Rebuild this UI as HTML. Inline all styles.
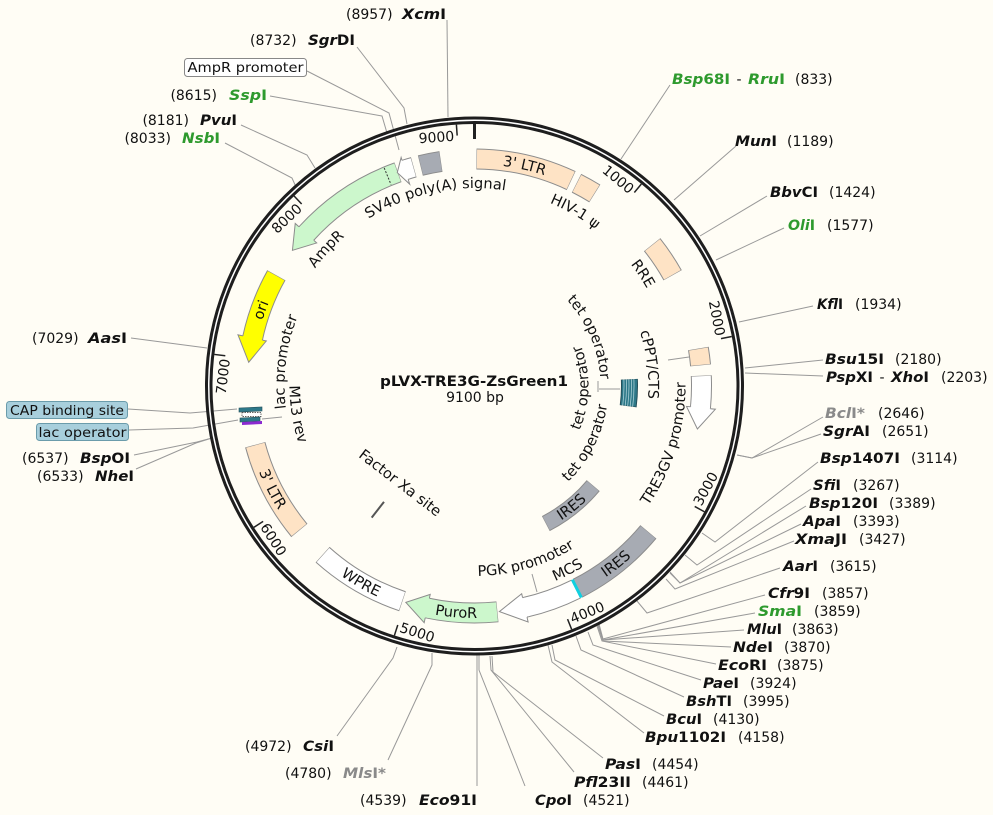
<!DOCTYPE html>
<html><head><meta charset="utf-8">
<style>
html,body{margin:0;padding:0;background:#fffdf5;}
svg{display:block;}
text{font-family:"DejaVu Sans","Liberation Sans",sans-serif;font-size:14px;fill:#111;}
.f{font-size:14.6px;}
.e{font-weight:bold;}
.i{font-style:italic;}
.g{fill:#2e9a2e;}
.gr{fill:#8a8a8a;}
.ln{fill:none;stroke:#999;stroke-width:1;}
.o{fill:none;stroke:#8c8c8c;stroke-width:21;}
</style></head><body>
<svg width="993" height="815" viewBox="0 0 993 815" xmlns="http://www.w3.org/2000/svg">
<rect width="993" height="815" fill="#fffdf5"/>
<defs>
<path id="cw222" d="M282.24 275 A222 222 0 0 1 666.76 275"/>
<path id="cw198" d="M303.03 287 A198 198 0 0 1 645.97 287"/>
<path id="cw190" d="M309.96 291 A190 190 0 0 1 639.04 291"/>
<path id="cw174" d="M323.82 299 A174 174 0 0 1 625.18 299"/>
<path id="cw126" d="M365.38 323 A126 126 0 0 1 583.62 323"/>
<path id="cc232" d="M273.59 502 A232 232 0 0 0 675.41 502"/>
<path id="cc160" d="M335.94 466 A160 160 0 0 0 613.06 466"/>
<path id="cc211" d="M291.77 491.5 A211 211 0 0 0 657.23 491.5"/>
<path id="cc190" d="M309.96 481 A190 190 0 0 0 639.04 481"/>
<path id="cc185" d="M314.29 478.5 A185 185 0 0 0 634.71 478.5"/>
<path id="cc114" d="M375.78 443 A114 114 0 0 0 573.22 443"/>
<path id="cc134" d="M358.46 453 A134 134 0 0 0 590.54 453"/>
</defs>

<!-- leader lines -->
<g class="ln">
<polyline points="447,20 448,117"/>
<polyline points="357,47 404,108 407,124"/>
<polyline points="307,71 389,113 399,150"/>
<polyline points="270,96 382,116 387,133"/>
<polyline points="241,125 307,155 315,168"/>
<polyline points="225,143 292,178 296,187"/>
<polyline points="131,338 207,348"/>
<polyline points="128,409 190,413 237,409"/>
<polyline points="129,430 193,428 238,420"/>
<polyline points="134,455 197,442 212,438"/>
<polyline points="136,469 196,443 212,438"/>
<polyline points="337,736 393,658 397,647"/>
<polyline points="388,760 432,665 432,653"/>
<polyline points="477,786 477,655"/>
<polyline points="525,786 479,670 479,655"/>
<polyline points="574,772 491,670 490,656"/>
<polyline points="603,758 493,672 492,656"/>
<polyline points="644,733 552,662 548,645"/>
<polyline points="664,716 555,660 552,645"/>
<polyline points="684,697 581,650 576,636"/>
<polyline points="701,680 593,645 588,632"/>
<polyline points="716,664 602,641 597,626"/>
<polyline points="731,647 603,641 598,626"/>
<polyline points="744,630 603,640 598,625"/>
<polyline points="755,613 603,640 599,625"/>
<polyline points="765,595 603,639 599,624"/>
<polyline points="780,568 647,613 637,601"/>
<polyline points="794,541 675,589 666,579"/>
<polyline points="801,524 680,583 670,573"/>
<polyline points="806,506 680,583 670,572"/>
<polyline points="811,489 697,565 685,555"/>
<polyline points="818,462 715,542 702,533"/>
<polyline points="821,434 752,458 737,455"/>
<polyline points="823,417 752,458 737,455"/>
<polyline points="823,376 745,373"/>
<polyline points="823,360 745,368"/>
<polyline points="813,306 739,322"/>
<polyline points="784,228 716,260"/>
<polyline points="767,196 700,236"/>
<polyline points="736,146 674,200"/>
<polyline points="670,85 621,159"/>
<line x1="668" y1="360" x2="689" y2="357"/>
<line x1="532" y1="574" x2="537" y2="592"/>
<line x1="262" y1="419" x2="282" y2="417"/>
<line x1="599" y1="389" x2="620" y2="389"/>
<line x1="598" y1="381" x2="598" y2="392"/>
</g>

<!-- backbone -->
<circle cx="474.5" cy="386" r="265.75" fill="none" stroke="#1e1e1e" stroke-width="7.5"/>
<circle cx="474.5" cy="386" r="265.75" fill="none" stroke="#ffffff" stroke-width="1.5"/>

<!-- ticks -->
<g stroke="#222" stroke-width="1.5">
<line x1="474.5" y1="124" x2="474.5" y2="135" transform="rotate(39.56 474.5 386)"/>
<line x1="474.5" y1="124" x2="474.5" y2="135" transform="rotate(79.12 474.5 386)"/>
<line x1="474.5" y1="124" x2="474.5" y2="135" transform="rotate(118.68 474.5 386)"/>
<line x1="474.5" y1="124" x2="474.5" y2="135" transform="rotate(158.24 474.5 386)"/>
<line x1="474.5" y1="124" x2="474.5" y2="135" transform="rotate(197.80 474.5 386)"/>
<line x1="474.5" y1="124" x2="474.5" y2="135" transform="rotate(237.36 474.5 386)"/>
<line x1="474.5" y1="124" x2="474.5" y2="135" transform="rotate(276.92 474.5 386)"/>
<line x1="474.5" y1="124" x2="474.5" y2="135" transform="rotate(316.48 474.5 386)"/>
<line x1="474.5" y1="124" x2="474.5" y2="135" transform="rotate(356.04 474.5 386)"/>
</g>
<line x1="474.5" y1="124" x2="474.5" y2="139" stroke="#222" stroke-width="3"/>
<text transform="rotate(39.56 474.5 386)" x="471.5" y="140" text-anchor="end">1000</text>
<text transform="rotate(79.12 474.5 386)" x="471.5" y="140" text-anchor="end">2000</text>
<text transform="rotate(276.92 474.5 386)" x="471.5" y="140" text-anchor="end">7000</text>
<text transform="rotate(316.48 474.5 386)" x="471.5" y="140" text-anchor="end">8000</text>
<text transform="rotate(356.04 474.5 386)" x="471.5" y="140" text-anchor="end">9000</text>
<text transform="rotate(-61.32 474.5 386)" x="477.5" y="643">3000</text>
<text transform="rotate(-21.76 474.5 386)" x="477.5" y="643">4000</text>
<text transform="rotate(17.80 474.5 386)" x="477.5" y="643">5000</text>
<text transform="rotate(57.36 474.5 386)" x="477.5" y="643">6000</text>

<!-- outer band features -->
<g transform="rotate(-89.5 474.5 386)"><circle cx="474.5" cy="386" r="227" class="o" stroke-dasharray="97.86 3000"/><circle cx="474.5" cy="386" r="227" fill="none" stroke="#fee3c5" stroke-width="19" stroke-dasharray="96.86 3000" stroke-dashoffset="-0.5"/></g>
<g transform="rotate(-63.3 474.5 386)"><circle cx="474.5" cy="386" r="227" class="o" stroke-dasharray="21 3000"/><circle cx="474.5" cy="386" r="227" fill="none" stroke="#fee3c5" stroke-width="19" stroke-dasharray="20 3000" stroke-dashoffset="-0.5"/></g>
<g transform="rotate(-38.5 474.5 386)"><circle cx="474.5" cy="386" r="227" class="o" stroke-dasharray="36.85 3000"/><circle cx="474.5" cy="386" r="227" fill="none" stroke="#fee3c5" stroke-width="19" stroke-dasharray="35.85 3000" stroke-dashoffset="-0.5"/></g>
<g transform="rotate(-9.5 474.5 386)"><circle cx="474.5" cy="386" r="227" class="o" stroke-dasharray="17.04 3000"/><circle cx="474.5" cy="386" r="227" fill="none" stroke="#fee3c5" stroke-width="19" stroke-dasharray="16.04 3000" stroke-dashoffset="-0.5"/></g>
<!-- TRE3GV -->
<g transform="rotate(-2.6 474.5 386)"><circle cx="474.5" cy="386" r="227" class="o" stroke-dasharray="32.09 3000"/><circle cx="474.5" cy="386" r="227" fill="none" stroke="#ffffff" stroke-width="19" stroke-dasharray="31.09 3000" stroke-dashoffset="-0.5"/></g>
<g transform="rotate(95.5 474.5 386)"><polygon points="471.5,149.6 474.5,149.6 474.5,144 495.9,160 474.5,173 474.5,168.4 471.5,168.4" fill="#ffffff"/><polyline points="474.5,149 474.5,144 495.9,160 474.5,173 474.5,169" fill="none" stroke="#8c8c8c"/></g>
<!-- IRES outer -->
<g transform="rotate(40 474.5 386)"><circle cx="474.5" cy="386" r="227" class="o" stroke-dasharray="91.12 3000"/><circle cx="474.5" cy="386" r="227" fill="none" stroke="#a7abb3" stroke-width="19" stroke-dasharray="90.12 3000" stroke-dashoffset="-0.5"/></g>
<!-- PGK -->
<g transform="rotate(63.4 474.5 386)"><circle cx="474.5" cy="386" r="227" class="o" stroke-dasharray="54.67 3000"/><circle cx="474.5" cy="386" r="227" fill="none" stroke="#ffffff" stroke-width="19" stroke-dasharray="53.67 3000" stroke-dashoffset="-0.5"/></g>
<g transform="rotate(167.2 474.5 386)"><polygon points="471.5,149.6 474.5,149.6 474.5,144 500.2,160.5 474.5,173 474.5,168.4 471.5,168.4" fill="#ffffff"/><polyline points="474.5,149 474.5,144 500.2,160.5 474.5,173 474.5,169" fill="none" stroke="#8c8c8c"/></g>
<!-- MCS -->
<line x1="474.5" y1="149" x2="474.5" y2="169" stroke="#10d0e0" stroke-width="3" transform="rotate(153.2 474.5 386)"/>
<!-- PuroR -->
<g transform="rotate(84.2 474.5 386)"><circle cx="474.5" cy="386" r="227" class="o" stroke-dasharray="70.52 3000"/><circle cx="474.5" cy="386" r="227" fill="none" stroke="#ccf7cc" stroke-width="19" stroke-dasharray="69.52 3000" stroke-dashoffset="-0.5"/></g>
<g transform="rotate(192 474.5 386)"><polygon points="471.5,149.6 474.5,149.6 474.5,144 496.7,160.1 474.5,173 474.5,168.4 471.5,168.4" fill="#ccf7cc"/><polyline points="474.5,149 474.5,144 496.7,160.1 474.5,173 474.5,169" fill="none" stroke="#8c8c8c"/></g>
<!-- WPRE -->
<g transform="rotate(108.5 474.5 386)"><circle cx="474.5" cy="386" r="227" class="o" stroke-dasharray="93.1 3000"/><circle cx="474.5" cy="386" r="227" fill="none" stroke="#ffffff" stroke-width="19" stroke-dasharray="92.1 3000" stroke-dashoffset="-0.5"/></g>
<!-- 3' LTR left -->
<g transform="rotate(140.5 474.5 386)"><circle cx="474.5" cy="386" r="227" class="o" stroke-dasharray="97.07 3000"/><circle cx="474.5" cy="386" r="227" fill="none" stroke="#fee3c5" stroke-width="19" stroke-dasharray="96.07 3000" stroke-dashoffset="-0.5"/></g>
<!-- ori -->
<g transform="rotate(192.2 474.5 386)"><circle cx="474.5" cy="386" r="227" class="o" stroke-dasharray="67.35 3000"/><circle cx="474.5" cy="386" r="227" fill="none" stroke="#ffff00" stroke-width="19" stroke-dasharray="66.35 3000" stroke-dashoffset="-0.5"/></g>
<g transform="rotate(282.2 474.5 386)"><polygon points="477.5,149.6 474.5,149.6 474.5,144 450,160.3 474.5,173 474.5,168.4 477.5,168.4" fill="#ffff00"/><polyline points="474.5,149 474.5,144 450,160.3 474.5,173 474.5,169" fill="none" stroke="#8c8c8c"/></g>
<!-- AmpR -->
<g transform="rotate(222.2 474.5 386)"><circle cx="474.5" cy="386" r="227" class="o" stroke-dasharray="111.33 3000"/><circle cx="474.5" cy="386" r="227" fill="none" stroke="#ccf7cc" stroke-width="19" stroke-dasharray="110.33 3000" stroke-dashoffset="-0.5"/></g>
<g transform="rotate(312.2 474.5 386)"><polygon points="477.5,149.6 474.5,149.6 474.5,144 452.7,160 474.5,173 474.5,168.4 477.5,168.4" fill="#ccf7cc"/><polyline points="474.5,149 474.5,144 452.7,160 474.5,173 474.5,169" fill="none" stroke="#8c8c8c"/></g>
<line x1="474.5" y1="150" x2="474.5" y2="168" stroke="#333" stroke-width="1" stroke-dasharray="2 1.5" transform="rotate(337.5 474.5 386)"/>
<!-- AmpR promoter -->
<g transform="rotate(252.2 474.5 386)"><circle cx="474.5" cy="386" r="227" class="o" stroke-dasharray="9.11 3000"/><circle cx="474.5" cy="386" r="227" fill="none" stroke="#ffffff" stroke-width="19" stroke-dasharray="8.11 3000" stroke-dashoffset="-0.5"/></g>
<g transform="rotate(342.2 474.5 386)"><polygon points="477.5,149.6 474.5,149.6 474.5,146 466.2,159.2 474.5,174 474.5,168.4 477.5,168.4" fill="#ffffff"/><polyline points="474.5,149 474.5,146 466.2,159.2 474.5,174 474.5,169" fill="none" stroke="#8c8c8c"/></g>
<!-- SV40 -->
<g transform="rotate(256.2 474.5 386)"><circle cx="474.5" cy="386" r="227" class="o" stroke-dasharray="21 3000"/><circle cx="474.5" cy="386" r="227" fill="none" stroke="#a7abb3" stroke-width="19" stroke-dasharray="20 3000" stroke-dashoffset="-0.5"/></g>

<!-- inner band -->
<g transform="rotate(40 474.5 386)"><circle cx="474.5" cy="386" r="155" fill="none" stroke="#8c8c8c" stroke-width="17" stroke-dasharray="61.14 3000"/><circle cx="474.5" cy="386" r="155" fill="none" stroke="#a7abb3" stroke-width="15" stroke-dasharray="60.14 3000" stroke-dashoffset="-0.5"/></g>
<g transform="rotate(-2.5 474.5 386)">
<circle cx="474.5" cy="386" r="155" fill="none" stroke="#244f5a" stroke-width="17" stroke-dasharray="27.05 3000"/>
<circle cx="474.5" cy="386" r="155" fill="none" stroke="#2d7888" stroke-width="15" stroke-dasharray="26.05 3000" stroke-dashoffset="-0.5"/>
<circle cx="474.5" cy="386" r="149.5" fill="none" stroke="#a9cfd6" stroke-width="0.8" stroke-dasharray="26.09 3000"/>
<circle cx="474.5" cy="386" r="152" fill="none" stroke="#a9cfd6" stroke-width="0.8" stroke-dasharray="26.53 3000"/>
<circle cx="474.5" cy="386" r="154.5" fill="none" stroke="#a9cfd6" stroke-width="0.8" stroke-dasharray="26.97 3000"/>
<circle cx="474.5" cy="386" r="157" fill="none" stroke="#a9cfd6" stroke-width="0.8" stroke-dasharray="27.4 3000"/>
<circle cx="474.5" cy="386" r="159.5" fill="none" stroke="#a9cfd6" stroke-width="0.8" stroke-dasharray="27.84 3000"/>
</g>
<line x1="474.5" y1="219" x2="474.5" y2="239" stroke="#555" stroke-width="2" transform="rotate(218 474.5 386)"/>

<!-- lac region -->
<polygon points="239,408 262,407 262,411 239,412" fill="#2d7888" stroke="#244f5a" stroke-width="0.6"/>
<rect x="242" y="412.5" width="19" height="4" fill="#fff" stroke="#333" stroke-width="0.7" stroke-dasharray="1.5 1"/>
<polygon points="240,418 260,417 260,421 240,422" fill="#2d7888" stroke="#244f5a" stroke-width="0.6"/>
<polygon points="242,422 262,421 262,424 242,425" fill="#8a2ad0"/>

<!-- feature labels -->
<text class="f" transform="rotate(12.8 474.5 386)"><textPath href="#cw222" startOffset="50%" text-anchor="middle">3' LTR</textPath></text>
<text class="f" transform="rotate(289.6 474.5 386)"><textPath href="#cw222" startOffset="50%" text-anchor="middle">ori</textPath></text>
<text class="f" transform="rotate(30 474.5 386)"><textPath href="#cw198" startOffset="50%" text-anchor="middle">HIV-1 ψ</textPath></text>
<text class="f" transform="rotate(56.3 474.5 386)"><textPath href="#cw198" startOffset="50%" text-anchor="middle">RRE</textPath></text>
<text class="f" transform="rotate(312.7 474.5 386)"><textPath href="#cw198" startOffset="50%" text-anchor="middle">AmpR</textPath></text>
<text class="f" transform="rotate(348.3 474.5 386)"><textPath href="#cw198" startOffset="50%" text-anchor="middle">SV40 poly(A) signal</textPath></text>
<text class="f" transform="rotate(277.3 474.5 386)"><textPath href="#cw190" startOffset="50%" text-anchor="middle">lac promoter</textPath></text>
<text class="f" transform="rotate(83 474.5 386)"><textPath href="#cw174" startOffset="50%" text-anchor="middle">cPPT/CTS</textPath></text>
<text class="f" transform="rotate(67 474.5 386)"><textPath href="#cw126" startOffset="50%" text-anchor="middle">tet operator</textPath></text>

<text class="f" transform="rotate(-38.5 474.5 386)"><textPath href="#cc232" startOffset="50%" text-anchor="middle">IRES</textPath></text>
<text class="f" transform="rotate(4.6 474.5 386)"><textPath href="#cc232" startOffset="50%" text-anchor="middle">PuroR</textPath></text>
<text class="f" transform="rotate(30 474.5 386)"><textPath href="#cc232" startOffset="50%" text-anchor="middle">WPRE</textPath></text>
<text class="f" transform="rotate(63 474.5 386)"><textPath href="#cc232" startOffset="50%" text-anchor="middle">3' LTR</textPath></text>
<text class="f" transform="rotate(-38.7 474.5 386)"><textPath href="#cc160" startOffset="50%" text-anchor="middle">IRES</textPath></text>
<text class="f" transform="rotate(-73.2 474.5 386)"><textPath href="#cc211" startOffset="50%" text-anchor="middle">TRE3GV promoter</textPath></text>
<text class="f" transform="rotate(-26.8 474.5 386)"><textPath href="#cc211" startOffset="50%" text-anchor="middle">MCS</textPath></text>
<text class="f" transform="rotate(-16.4 474.5 386)"><textPath href="#cc190" startOffset="50%" text-anchor="middle">PGK promoter</textPath></text>
<text class="f" transform="rotate(81 474.5 386)"><textPath href="#cc185" startOffset="50%" text-anchor="middle">M13 rev</textPath></text>
<text class="f" transform="rotate(-89 474.5 386)"><textPath href="#cc114" startOffset="50%" text-anchor="middle">tet operator</textPath></text>
<text class="f" transform="rotate(-63 474.5 386)"><textPath href="#cc134" startOffset="50%" text-anchor="middle">tet operator</textPath></text>
<text class="f" transform="rotate(37.5 474.5 386)" x="474.5" y="513" text-anchor="middle">Factor Xa site</text>

<!-- center -->
<text x="474" y="386" text-anchor="middle" font-weight="bold" style="font-size:14.5px" textLength="188" lengthAdjust="spacingAndGlyphs">pLVX-TRE3G-ZsGreen1</text>
<text x="475" y="402" text-anchor="middle">9100 bp</text>

<!-- boxes -->
<rect x="184.5" y="58.5" width="122" height="18" rx="3" fill="#fff" stroke="#888"/>
<text x="245.5" y="72" text-anchor="middle" style="font-size:13.5px" textLength="116" lengthAdjust="spacingAndGlyphs">AmpR promoter</text>
<rect x="6.5" y="401.5" width="121" height="17" rx="3" fill="#a8cfdc" stroke="#6b9cab"/>
<text x="67" y="415" text-anchor="middle" style="font-size:13px" textLength="114" lengthAdjust="spacingAndGlyphs">CAP binding site</text>
<rect x="36.5" y="423.5" width="92" height="17" rx="3" fill="#a8cfdc" stroke="#6b9cab"/>
<text x="82.5" y="437" text-anchor="middle" style="font-size:13px" textLength="88" lengthAdjust="spacingAndGlyphs">lac operator</text>

<!-- enzyme labels left/top -->
<text x="346" y="19">(8957)</text>
<text x="402" y="19" class="e" textLength="44" lengthAdjust="spacingAndGlyphs"><tspan class="i">Xcm</tspan>I</text>
<text x="250" y="45">(8732)</text>
<text x="308" y="45" class="e" textLength="47" lengthAdjust="spacingAndGlyphs"><tspan class="i">Sgr</tspan>DI</text>
<text x="217" y="100" text-anchor="end">(8615)</text>
<text x="229" y="100" class="e g" textLength="38" lengthAdjust="spacingAndGlyphs"><tspan class="i">Ssp</tspan>I</text>
<text x="189" y="125" text-anchor="end">(8181)</text>
<text x="200" y="125" class="e" textLength="37" lengthAdjust="spacingAndGlyphs"><tspan class="i">Pvu</tspan>I</text>
<text x="171" y="143" text-anchor="end">(8033)</text>
<text x="182" y="143" class="e g" textLength="38" lengthAdjust="spacingAndGlyphs"><tspan class="i">Nsb</tspan>I</text>
<text x="32" y="343">(7029)</text>
<text x="88" y="343" class="e" textLength="39" lengthAdjust="spacingAndGlyphs"><tspan class="i">Aas</tspan>I</text>
<text x="22" y="463">(6537)</text>
<text x="80" y="463" class="e" textLength="50" lengthAdjust="spacingAndGlyphs"><tspan class="i">Bsp</tspan>OI</text>
<text x="37" y="481">(6533)</text>
<text x="95" y="481" class="e" textLength="39" lengthAdjust="spacingAndGlyphs"><tspan class="i">Nhe</tspan>I</text>
<text x="245" y="751">(4972)</text>
<text x="303" y="751" class="e" textLength="31" lengthAdjust="spacingAndGlyphs"><tspan class="i">Csi</tspan>I</text>
<text x="285" y="778">(4780)</text>
<text x="343" y="778" class="e gr" textLength="43" lengthAdjust="spacingAndGlyphs"><tspan class="i">Mls</tspan>I*</text>
<text x="360" y="805">(4539)</text>
<text x="419" y="805" class="e" textLength="58" lengthAdjust="spacingAndGlyphs"><tspan class="i">Eco</tspan>91I</text>

<!-- enzyme labels right/bottom -->
<text x="535" y="805" class="e" textLength="37" lengthAdjust="spacingAndGlyphs"><tspan class="i">Cpo</tspan>I</text><text x="583" y="805">(4521)</text>
<text x="574" y="787" class="e" textLength="57" lengthAdjust="spacingAndGlyphs"><tspan class="i">Pfl</tspan>23II</text><text x="642" y="787">(4461)</text>
<text x="605" y="769" class="e" textLength="36" lengthAdjust="spacingAndGlyphs"><tspan class="i">Pas</tspan>I</text><text x="652" y="769">(4454)</text>
<text x="645" y="742" class="e" textLength="81" lengthAdjust="spacingAndGlyphs"><tspan class="i">Bpu</tspan>1102I</text><text x="738" y="742">(4158)</text>
<text x="666" y="724" class="e" textLength="36" lengthAdjust="spacingAndGlyphs"><tspan class="i">Bcu</tspan>I</text><text x="713" y="724">(4130)</text>
<text x="686" y="706" class="e" textLength="46" lengthAdjust="spacingAndGlyphs"><tspan class="i">Bsh</tspan>TI</text><text x="743" y="706">(3995)</text>
<text x="703" y="688" class="e" textLength="36" lengthAdjust="spacingAndGlyphs"><tspan class="i">Pae</tspan>I</text><text x="750" y="688">(3924)</text>
<text x="718" y="670" class="e" textLength="49" lengthAdjust="spacingAndGlyphs"><tspan class="i">Eco</tspan>RI</text><text x="777" y="670">(3875)</text>
<text x="733" y="652" class="e" textLength="40" lengthAdjust="spacingAndGlyphs"><tspan class="i">Nde</tspan>I</text><text x="784" y="652">(3870)</text>
<text x="747" y="634" class="e" textLength="35" lengthAdjust="spacingAndGlyphs"><tspan class="i">Mlu</tspan>I</text><text x="792" y="634">(3863)</text>
<text x="758" y="616" class="e g" textLength="44" lengthAdjust="spacingAndGlyphs"><tspan class="i">Sma</tspan>I</text><text x="814" y="616">(3859)</text>
<text x="768" y="598" class="e" textLength="42" lengthAdjust="spacingAndGlyphs"><tspan class="i">Cfr</tspan>9I</text><text x="822" y="598">(3857)</text>
<text x="783" y="571" class="e" textLength="35" lengthAdjust="spacingAndGlyphs"><tspan class="i">Aar</tspan>I</text><text x="830" y="571">(3615)</text>
<text x="795" y="544" class="e" textLength="52" lengthAdjust="spacingAndGlyphs"><tspan class="i">Xma</tspan>JI</text><text x="859" y="544">(3427)</text>
<text x="803" y="526" class="e" textLength="38" lengthAdjust="spacingAndGlyphs"><tspan class="i">Apa</tspan>I</text><text x="853" y="526">(3393)</text>
<text x="809" y="508" class="e" textLength="69" lengthAdjust="spacingAndGlyphs"><tspan class="i">Bsp</tspan>120I</text><text x="889" y="508">(3389)</text>
<text x="813" y="490" class="e" textLength="28" lengthAdjust="spacingAndGlyphs"><tspan class="i">Sfi</tspan>I</text><text x="853" y="490">(3267)</text>
<text x="820" y="463" class="e" textLength="80" lengthAdjust="spacingAndGlyphs"><tspan class="i">Bsp</tspan>1407I</text><text x="911" y="463">(3114)</text>
<text x="823" y="436" class="e" textLength="47" lengthAdjust="spacingAndGlyphs"><tspan class="i">Sgr</tspan>AI</text><text x="882" y="436">(2651)</text>
<text x="825" y="418" class="e gr" textLength="40" lengthAdjust="spacingAndGlyphs"><tspan class="i">Bcl</tspan>I*</text><text x="878" y="418">(2646)</text>
<text x="826" y="382" class="e" textLength="47" lengthAdjust="spacingAndGlyphs"><tspan class="i">Psp</tspan>XI</text><text x="882" y="382" text-anchor="middle">-</text><text x="891" y="382" class="e" textLength="38" lengthAdjust="spacingAndGlyphs"><tspan class="i">Xho</tspan>I</text><text x="941" y="382">(2203)</text>
<text x="825" y="364" class="e" textLength="59" lengthAdjust="spacingAndGlyphs"><tspan class="i">Bsu</tspan>15I</text><text x="895" y="364">(2180)</text>
<text x="817" y="309" class="e" textLength="26" lengthAdjust="spacingAndGlyphs"><tspan class="i">Kfl</tspan>I</text><text x="855" y="309">(1934)</text>
<text x="788" y="230" class="e g" textLength="27" lengthAdjust="spacingAndGlyphs"><tspan class="i">Oli</tspan>I</text><text x="827" y="230">(1577)</text>
<text x="770" y="197" class="e" textLength="48" lengthAdjust="spacingAndGlyphs"><tspan class="i">Bbv</tspan>CI</text><text x="829" y="197">(1424)</text>
<text x="735" y="146" class="e" textLength="42" lengthAdjust="spacingAndGlyphs"><tspan class="i">Mun</tspan>I</text><text x="787" y="146">(1189)</text>
<text x="672" y="84" class="e g" textLength="58" lengthAdjust="spacingAndGlyphs"><tspan class="i">Bsp</tspan>68I</text><text x="739" y="84" text-anchor="middle">-</text><text x="748" y="84" class="e g" textLength="37" lengthAdjust="spacingAndGlyphs"><tspan class="i">Rru</tspan>I</text><text x="795" y="84">(833)</text>
</svg>
</body></html>
